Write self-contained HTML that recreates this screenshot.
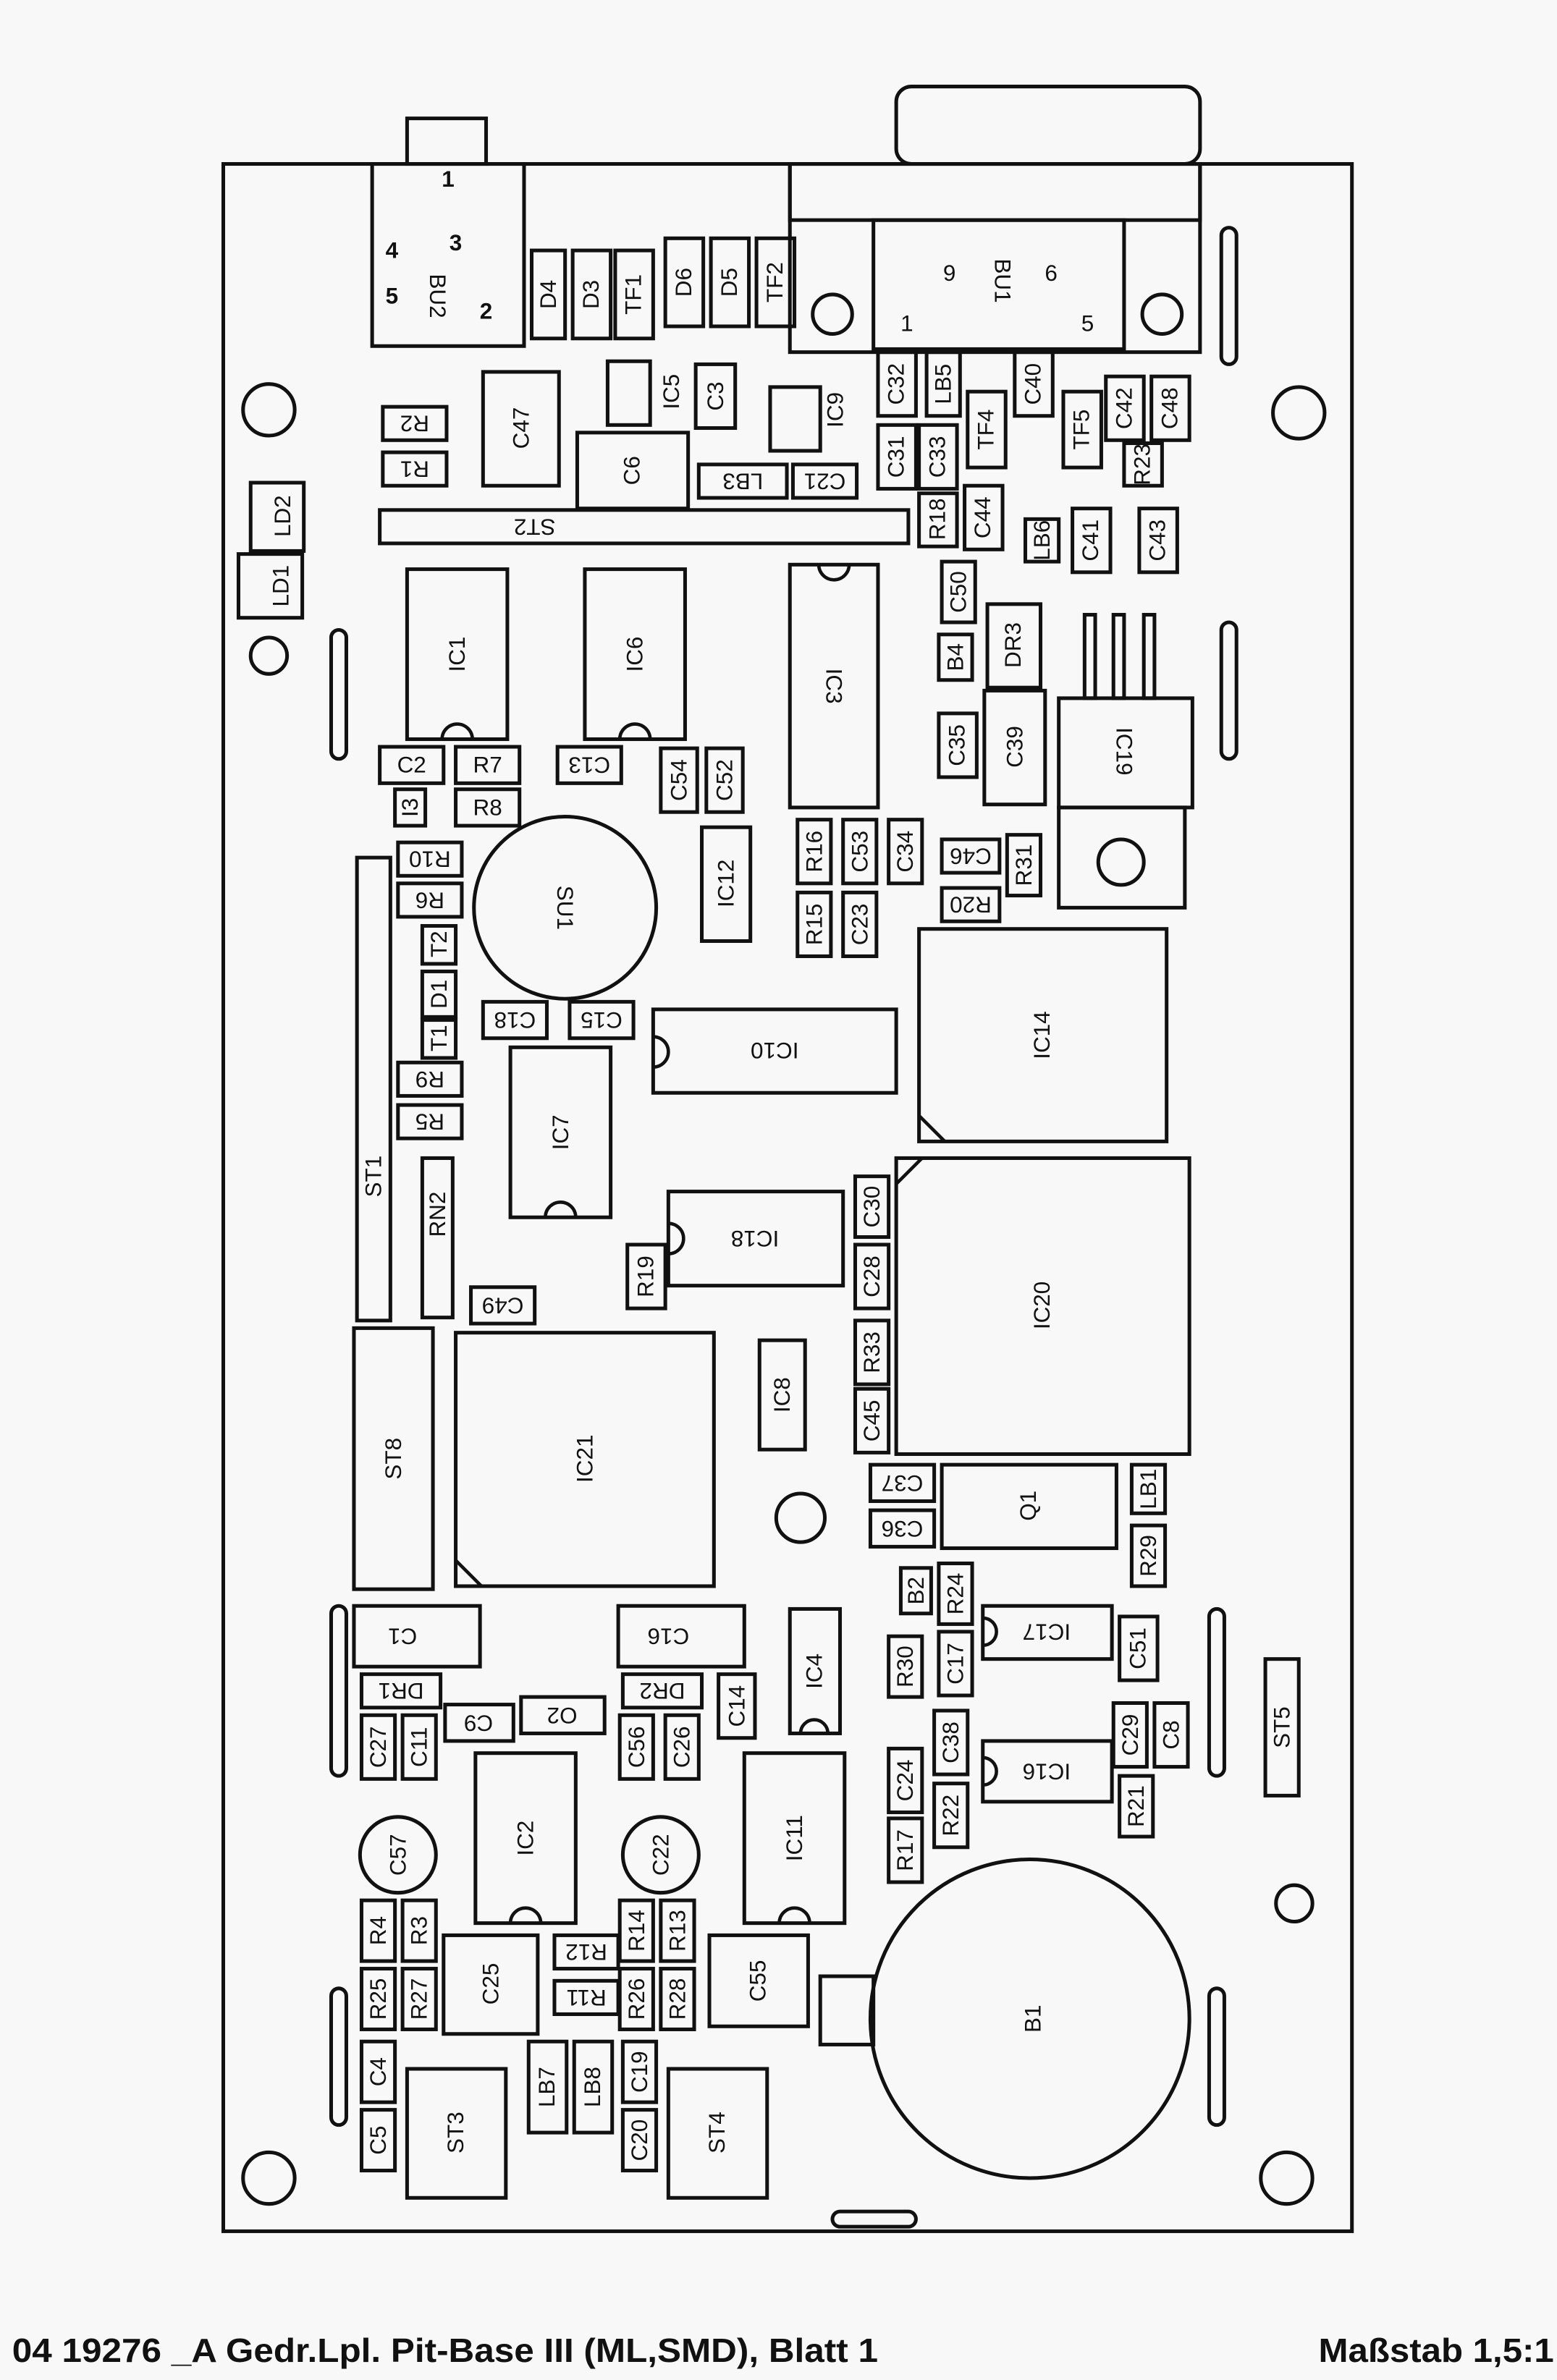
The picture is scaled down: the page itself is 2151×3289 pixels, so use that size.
<!DOCTYPE html>
<html><head><meta charset="utf-8"><style>
html,body{margin:0;padding:0;background:#f8f8f8;}
svg{display:block;}
.c rect,.c circle,.o{fill:none;stroke:#111;stroke-width:2.4;}
.n{fill:none;stroke:#111;stroke-width:2.2;}
text{font-family:"Liberation Sans Narrow","Liberation Sans",sans-serif;font-size:15px;fill:#111;text-anchor:middle;dominant-baseline:central;}
.f{font-family:"Liberation Sans Narrow","Liberation Sans",sans-serif;font-weight:bold;font-size:22px;text-anchor:start;dominant-baseline:auto;}
</style></head><body>
<svg width="2151" height="3289" viewBox="0 0 1025 1568" preserveAspectRatio="none" xmlns="http://www.w3.org/2000/svg">
<rect width="1025" height="1568" fill="#f8f8f8"/>
<g class="c">
<rect x="147" y="108" width="743" height="1362"/>
<rect x="245" y="108" width="100" height="120"/>
<rect x="268" y="78" width="52" height="30"/>
<rect x="590" y="57" width="200" height="51" rx="10"/>
<rect x="520" y="108" width="270" height="124"/>
<rect x="520" y="108" width="270" height="37"/>
<rect x="575" y="145" width="165" height="85"/>
<circle cx="548" cy="207" r="13"/><circle cx="765" cy="207" r="13"/>
<circle cx="177" cy="270" r="17"/><circle cx="855" cy="272" r="17"/>
<circle cx="177" cy="432" r="12"/><circle cx="852" cy="1254" r="12"/>
<circle cx="177" cy="1435" r="17"/><circle cx="847" cy="1435" r="17"/>
<circle cx="527" cy="1000" r="16"/>
<rect x="218" y="415" width="10" height="85" rx="5"/>
<rect x="804" y="150" width="10" height="90" rx="5"/>
<rect x="804" y="410" width="10" height="90" rx="5"/>
<rect x="218" y="1058" width="10" height="112" rx="5"/>
<rect x="796" y="1060" width="10" height="110" rx="5"/>
<rect x="218" y="1310" width="10" height="90" rx="5"/>
<rect x="796" y="1310" width="10" height="90" rx="5"/>
<rect x="548" y="1457" width="55" height="10" rx="5"/>
<rect x="697" y="460" width="88" height="72"/>
<rect x="697" y="532" width="83" height="66"/>
<circle cx="738" cy="568" r="15"/>
<rect x="714" y="405" width="7" height="55"/><rect x="733" y="405" width="7" height="55"/><rect x="753" y="405" width="7" height="55"/>
<circle cx="678" cy="1330" r="105"/>
<rect x="540" y="1302" width="35" height="45"/>
<circle cx="372" cy="598" r="60"/>
<circle cx="262" cy="1222" r="25"/>
<circle cx="435" cy="1222" r="25"/>
</g>
<!-- IC notches -->
<path class="n" d="M291 487 a10 10 0 0 1 20 0 M408 487 a10 10 0 0 1 20 0 M539 372 a10 10 0 0 0 20 0 M359 802 a10 10 0 0 1 20 0 M336 1267 a10 10 0 0 1 20 0 M513 1267 a10 10 0 0 1 20 0 M430 683 a10 10 0 0 1 0 20 M440 806 a10 10 0 0 1 0 20 M647 1066 a9 9 0 0 1 0 18 M647 1158 a9 9 0 0 1 0 18 M527 1142 a9 9 0 0 1 18 0"/>
<path class="n" d="M605 735 L622 752 M590 780 L607 763 M300 1028 L317 1045"/>
<text x="295" y="118" font-size="18" font-weight="bold">1</text><text x="300" y="160" font-size="20" font-weight="bold">3</text><text x="258" y="165" font-size="20" font-weight="bold">4</text><text x="258" y="195" font-size="20" font-weight="bold">5</text><text x="320" y="205" font-size="20" font-weight="bold">2</text>
<text x="288" y="195" transform="rotate(90 288 195)">BU2</text>
<text x="625" y="180" font-size="18">9</text><text x="692" y="180" font-size="18">6</text><text x="660" y="185" transform="rotate(90 660 185)">BU1</text>
<text x="597" y="213">1</text><text x="716" y="213">5</text>
<text x="372" y="598" transform="rotate(90 372 598)">SU1</text>
<text x="262" y="1222" transform="rotate(-90 262 1222)">C57</text>
<text x="435" y="1222" transform="rotate(-90 435 1222)">C22</text>
<text x="680" y="1330" transform="rotate(-90 680 1330)">B1</text>
<text x="740" y="495" transform="rotate(90 740 495)">IC19</text>
<g class="c">
<rect x="350" y="165" width="22" height="58"/><text x="361" y="194" transform="rotate(-90 361 194)">D4</text>
<rect x="377" y="165" width="25" height="58"/><text x="389" y="194" transform="rotate(-90 389 194)">D3</text>
<rect x="405" y="165" width="25" height="58"/><text x="417" y="194" transform="rotate(-90 417 194)">TF1</text>
<rect x="438" y="157" width="25" height="58"/><text x="450" y="186" transform="rotate(-90 450 186)">D6</text>
<rect x="468" y="157" width="25" height="58"/><text x="480" y="186" transform="rotate(-90 480 186)">D5</text>
<rect x="498" y="157" width="25" height="58"/><text x="510" y="186" transform="rotate(-90 510 186)">TF2</text>
<rect x="318" y="245" width="50" height="75"/><text x="343" y="282" transform="rotate(-90 343 282)">C47</text>
<rect x="252" y="268" width="42" height="22"/><text x="273" y="279" transform="rotate(180 273 279)">R2</text>
<rect x="252" y="298" width="42" height="22"/><text x="273" y="309" transform="rotate(180 273 309)">R1</text>
<rect x="400" y="238" width="28" height="42"/><text x="442" y="258" transform="rotate(-90 442 258)">IC5</text>
<rect x="458" y="240" width="26" height="42"/><text x="471" y="261" transform="rotate(-90 471 261)">C3</text>
<rect x="507" y="255" width="33" height="42"/><text x="550" y="270" transform="rotate(-90 550 270)">IC9</text>
<rect x="380" y="285" width="73" height="50"/><text x="416" y="310" transform="rotate(-90 416 310)">C6</text>
<rect x="460" y="306" width="58" height="22"/><text x="489" y="317" transform="rotate(180 489 317)">LB3</text>
<rect x="522" y="306" width="42" height="22"/><text x="543" y="317" transform="rotate(180 543 317)">C21</text>
<rect x="578" y="232" width="25" height="42"/><text x="590" y="253" transform="rotate(-90 590 253)">C32</text>
<rect x="610" y="232" width="22" height="42"/><text x="621" y="253" transform="rotate(-90 621 253)">LB5</text>
<rect x="578" y="280" width="25" height="42"/><text x="590" y="301" transform="rotate(-90 590 301)">C31</text>
<rect x="605" y="280" width="25" height="42"/><text x="617" y="301" transform="rotate(-90 617 301)">C33</text>
<rect x="637" y="258" width="25" height="50"/><text x="649" y="283" transform="rotate(-90 649 283)">TF4</text>
<rect x="668" y="232" width="25" height="42"/><text x="680" y="253" transform="rotate(-90 680 253)">C40</text>
<rect x="700" y="258" width="25" height="50"/><text x="712" y="283" transform="rotate(-90 712 283)">TF5</text>
<rect x="728" y="248" width="25" height="42"/><text x="740" y="269" transform="rotate(-90 740 269)">C42</text>
<rect x="758" y="248" width="25" height="42"/><text x="770" y="269" transform="rotate(-90 770 269)">C48</text>
<rect x="740" y="292" width="25" height="28"/><text x="752" y="306" transform="rotate(-90 752 306)">R23</text>
<rect x="605" y="325" width="25" height="35"/><text x="617" y="342" transform="rotate(-90 617 342)">R18</text>
<rect x="635" y="320" width="25" height="42"/><text x="647" y="341" transform="rotate(-90 647 341)">C44</text>
<rect x="675" y="342" width="22" height="28"/><text x="686" y="356" transform="rotate(-90 686 356)">LB6</text>
<rect x="706" y="335" width="25" height="42"/><text x="718" y="356" transform="rotate(-90 718 356)">C41</text>
<rect x="750" y="335" width="25" height="42"/><text x="762" y="356" transform="rotate(-90 762 356)">C43</text>
<rect x="250" y="336" width="348" height="22"/><text x="352" y="347" transform="rotate(180 352 347)">ST2</text>
<rect x="165" y="318" width="35" height="45"/><text x="186" y="340" transform="rotate(-90 186 340)">LD2</text>
<rect x="157" y="365" width="42" height="42"/><text x="185" y="386" transform="rotate(-90 185 386)">LD1</text>
<rect x="268" y="375" width="66" height="112"/><text x="301" y="431" transform="rotate(-90 301 431)">IC1</text>
<rect x="385" y="375" width="66" height="112"/><text x="418" y="431" transform="rotate(-90 418 431)">IC6</text>
<rect x="520" y="372" width="58" height="160"/><text x="549" y="452" transform="rotate(90 549 452)">IC3</text>
<rect x="620" y="370" width="22" height="40"/><text x="631" y="390" transform="rotate(-90 631 390)">C50</text>
<rect x="618" y="418" width="22" height="30"/><text x="629" y="433" transform="rotate(-90 629 433)">B4</text>
<rect x="650" y="398" width="35" height="55"/><text x="667" y="425" transform="rotate(-90 667 425)">DR3</text>
<rect x="618" y="470" width="25" height="42"/><text x="630" y="491" transform="rotate(-90 630 491)">C35</text>
<rect x="648" y="455" width="40" height="75"/><text x="668" y="492" transform="rotate(-90 668 492)">C39</text>
<rect x="250" y="492" width="42" height="24"/><text x="271" y="504">C2</text>
<rect x="300" y="492" width="42" height="24"/><text x="321" y="504">R7</text>
<rect x="300" y="520" width="42" height="24"/><text x="321" y="532">R8</text>
<rect x="367" y="492" width="42" height="24"/><text x="388" y="504" transform="rotate(180 388 504)">C13</text>
<rect x="435" y="493" width="24" height="42"/><text x="447" y="514" transform="rotate(-90 447 514)">C54</text>
<rect x="465" y="493" width="24" height="42"/><text x="477" y="514" transform="rotate(-90 477 514)">C52</text>
<rect x="260" y="520" width="20" height="24"/><text x="270" y="532" transform="rotate(-90 270 532)">I3</text>
<rect x="262" y="555" width="42" height="22"/><text x="283" y="566" transform="rotate(180 283 566)">R10</text>
<rect x="262" y="582" width="42" height="22"/><text x="283" y="593" transform="rotate(180 283 593)">R6</text>
<rect x="278" y="610" width="22" height="25"/><text x="289" y="622" transform="rotate(-90 289 622)">T2</text>
<rect x="278" y="640" width="22" height="30"/><text x="289" y="655" transform="rotate(-90 289 655)">D1</text>
<rect x="278" y="672" width="22" height="25"/><text x="289" y="684" transform="rotate(-90 289 684)">T1</text>
<rect x="262" y="700" width="42" height="22"/><text x="283" y="711" transform="rotate(180 283 711)">R9</text>
<rect x="262" y="728" width="42" height="22"/><text x="283" y="739" transform="rotate(180 283 739)">R5</text>
<rect x="235" y="565" width="22" height="305"/><text x="246" y="775" transform="rotate(-90 246 775)">ST1</text>
<rect x="462" y="545" width="32" height="75"/><text x="478" y="582" transform="rotate(-90 478 582)">IC12</text>
<rect x="525" y="540" width="22" height="42"/><text x="536" y="561" transform="rotate(-90 536 561)">R16</text>
<rect x="555" y="540" width="22" height="42"/><text x="566" y="561" transform="rotate(-90 566 561)">C53</text>
<rect x="585" y="540" width="22" height="42"/><text x="596" y="561" transform="rotate(-90 596 561)">C34</text>
<rect x="525" y="588" width="22" height="42"/><text x="536" y="609" transform="rotate(-90 536 609)">R15</text>
<rect x="555" y="588" width="22" height="42"/><text x="566" y="609" transform="rotate(-90 566 609)">C23</text>
<rect x="620" y="553" width="38" height="22"/><text x="639" y="564" transform="rotate(180 639 564)">C46</text>
<rect x="620" y="585" width="38" height="22"/><text x="639" y="596" transform="rotate(180 639 596)">R20</text>
<rect x="663" y="550" width="22" height="40"/><text x="674" y="570" transform="rotate(-90 674 570)">R31</text>
<rect x="605" y="612" width="163" height="140"/><text x="686" y="682" transform="rotate(-90 686 682)">IC14</text>
<rect x="318" y="660" width="42" height="24"/><text x="339" y="672" transform="rotate(180 339 672)">C18</text>
<rect x="375" y="660" width="42" height="24"/><text x="396" y="672" transform="rotate(180 396 672)">C15</text>
<rect x="430" y="665" width="160" height="55"/><text x="510" y="692" transform="rotate(180 510 692)">IC10</text>
<rect x="336" y="690" width="66" height="112"/><text x="369" y="746" transform="rotate(-90 369 746)">IC7</text>
<rect x="590" y="763" width="193" height="195"/><text x="686" y="860" transform="rotate(-90 686 860)">IC20</text>
<rect x="563" y="775" width="22" height="40"/><text x="574" y="795" transform="rotate(-90 574 795)">C30</text>
<rect x="440" y="785" width="115" height="62"/><text x="497" y="816" transform="rotate(180 497 816)">IC18</text>
<rect x="563" y="820" width="22" height="42"/><text x="574" y="841" transform="rotate(-90 574 841)">C28</text>
<rect x="413" y="820" width="25" height="42"/><text x="425" y="841" transform="rotate(-90 425 841)">R19</text>
<rect x="278" y="763" width="20" height="105"/><text x="288" y="800" transform="rotate(-90 288 800)">RN2</text>
<rect x="310" y="848" width="42" height="24"/><text x="331" y="860" transform="rotate(180 331 860)">C49</text>
<rect x="563" y="870" width="22" height="42"/><text x="574" y="891" transform="rotate(-90 574 891)">R33</text>
<rect x="500" y="883" width="30" height="72"/><text x="515" y="919" transform="rotate(-90 515 919)">IC8</text>
<rect x="563" y="915" width="22" height="42"/><text x="574" y="936" transform="rotate(-90 574 936)">C45</text>
<rect x="233" y="875" width="52" height="172"/><text x="259" y="961" transform="rotate(-90 259 961)">ST8</text>
<rect x="300" y="878" width="170" height="167"/><text x="385" y="961" transform="rotate(-90 385 961)">IC21</text>
<rect x="573" y="965" width="42" height="24"/><text x="594" y="977" transform="rotate(180 594 977)">C37</text>
<rect x="573" y="995" width="42" height="24"/><text x="594" y="1007" transform="rotate(180 594 1007)">C36</text>
<rect x="620" y="965" width="115" height="55"/><text x="677" y="992" transform="rotate(-90 677 992)">Q1</text>
<rect x="745" y="965" width="22" height="32"/><text x="756" y="981" transform="rotate(-90 756 981)">LB1</text>
<rect x="745" y="1005" width="22" height="40"/><text x="756" y="1025" transform="rotate(-90 756 1025)">R29</text>
<rect x="593" y="1033" width="20" height="30"/><text x="603" y="1048" transform="rotate(-90 603 1048)">B2</text>
<rect x="618" y="1030" width="22" height="40"/><text x="629" y="1050" transform="rotate(-90 629 1050)">R24</text>
<rect x="647" y="1058" width="85" height="35"/><text x="689" y="1075" transform="rotate(180 689 1075)">IC17</text>
<rect x="737" y="1065" width="25" height="42"/><text x="749" y="1086" transform="rotate(-90 749 1086)">C51</text>
<rect x="585" y="1078" width="22" height="40"/><text x="596" y="1098" transform="rotate(-90 596 1098)">R30</text>
<rect x="618" y="1075" width="22" height="42"/><text x="629" y="1096" transform="rotate(-90 629 1096)">C17</text>
<rect x="233" y="1058" width="83" height="40"/><text x="265" y="1078" transform="rotate(180 265 1078)">C1</text>
<rect x="407" y="1058" width="83" height="40"/><text x="440" y="1078" transform="rotate(180 440 1078)">C16</text>
<rect x="520" y="1060" width="33" height="82"/><text x="536" y="1101" transform="rotate(-90 536 1101)">IC4</text>
<rect x="238" y="1103" width="52" height="22"/><text x="264" y="1114" transform="rotate(180 264 1114)">DR1</text>
<rect x="343" y="1118" width="55" height="24"/><text x="370" y="1130" transform="rotate(180 370 1130)">O2</text>
<rect x="293" y="1123" width="45" height="24"/><text x="315" y="1135" transform="rotate(180 315 1135)">C9</text>
<rect x="410" y="1103" width="52" height="22"/><text x="436" y="1114" transform="rotate(180 436 1114)">DR2</text>
<rect x="473" y="1103" width="24" height="42"/><text x="485" y="1124" transform="rotate(-90 485 1124)">C14</text>
<rect x="238" y="1130" width="22" height="42"/><text x="249" y="1151" transform="rotate(-90 249 1151)">C27</text>
<rect x="265" y="1130" width="22" height="42"/><text x="276" y="1151" transform="rotate(-90 276 1151)">C11</text>
<rect x="408" y="1130" width="22" height="42"/><text x="419" y="1151" transform="rotate(-90 419 1151)">C56</text>
<rect x="438" y="1130" width="22" height="42"/><text x="449" y="1151" transform="rotate(-90 449 1151)">C26</text>
<rect x="585" y="1152" width="22" height="42"/><text x="596" y="1173" transform="rotate(-90 596 1173)">C24</text>
<rect x="615" y="1127" width="22" height="42"/><text x="626" y="1148" transform="rotate(-90 626 1148)">C38</text>
<rect x="647" y="1147" width="85" height="40"/><text x="689" y="1167" transform="rotate(180 689 1167)">IC16</text>
<rect x="733" y="1122" width="22" height="42"/><text x="744" y="1143" transform="rotate(-90 744 1143)">C29</text>
<rect x="760" y="1122" width="22" height="42"/><text x="771" y="1143" transform="rotate(-90 771 1143)">C8</text>
<rect x="615" y="1175" width="22" height="42"/><text x="626" y="1196" transform="rotate(-90 626 1196)">R22</text>
<rect x="737" y="1170" width="22" height="40"/><text x="748" y="1190" transform="rotate(-90 748 1190)">R21</text>
<rect x="585" y="1198" width="22" height="42"/><text x="596" y="1219" transform="rotate(-90 596 1219)">R17</text>
<rect x="833" y="1093" width="22" height="90"/><text x="844" y="1138" transform="rotate(-90 844 1138)">ST5</text>
<rect x="313" y="1155" width="66" height="112"/><text x="346" y="1211" transform="rotate(-90 346 1211)">IC2</text>
<rect x="490" y="1155" width="66" height="112"/><text x="523" y="1211" transform="rotate(-90 523 1211)">IC11</text>
<rect x="238" y="1252" width="22" height="40"/><text x="249" y="1272" transform="rotate(-90 249 1272)">R4</text>
<rect x="265" y="1252" width="22" height="40"/><text x="276" y="1272" transform="rotate(-90 276 1272)">R3</text>
<rect x="408" y="1252" width="22" height="40"/><text x="419" y="1272" transform="rotate(-90 419 1272)">R14</text>
<rect x="435" y="1252" width="22" height="40"/><text x="446" y="1272" transform="rotate(-90 446 1272)">R13</text>
<rect x="365" y="1275" width="42" height="22"/><text x="386" y="1286" transform="rotate(180 386 1286)">R12</text>
<rect x="365" y="1305" width="42" height="22"/><text x="386" y="1316" transform="rotate(180 386 1316)">R11</text>
<rect x="292" y="1275" width="62" height="65"/><text x="323" y="1307" transform="rotate(-90 323 1307)">C25</text>
<rect x="467" y="1275" width="65" height="60"/><text x="499" y="1305" transform="rotate(-90 499 1305)">C55</text>
<rect x="238" y="1297" width="22" height="40"/><text x="249" y="1317" transform="rotate(-90 249 1317)">R25</text>
<rect x="265" y="1297" width="22" height="40"/><text x="276" y="1317" transform="rotate(-90 276 1317)">R27</text>
<rect x="408" y="1297" width="22" height="40"/><text x="419" y="1317" transform="rotate(-90 419 1317)">R26</text>
<rect x="435" y="1297" width="22" height="40"/><text x="446" y="1317" transform="rotate(-90 446 1317)">R28</text>
<rect x="238" y="1345" width="22" height="40"/><text x="249" y="1365" transform="rotate(-90 249 1365)">C4</text>
<rect x="410" y="1345" width="22" height="40"/><text x="421" y="1365" transform="rotate(-90 421 1365)">C19</text>
<rect x="348" y="1345" width="25" height="60"/><text x="360" y="1375" transform="rotate(-90 360 1375)">LB7</text>
<rect x="378" y="1345" width="25" height="60"/><text x="390" y="1375" transform="rotate(-90 390 1375)">LB8</text>
<rect x="238" y="1390" width="22" height="40"/><text x="249" y="1410" transform="rotate(-90 249 1410)">C5</text>
<rect x="410" y="1390" width="22" height="40"/><text x="421" y="1410" transform="rotate(-90 421 1410)">C20</text>
<rect x="268" y="1363" width="65" height="85"/><text x="300" y="1405" transform="rotate(-90 300 1405)">ST3</text>
<rect x="440" y="1363" width="65" height="85"/><text x="472" y="1405" transform="rotate(-90 472 1405)">ST4</text>
</g>
<text class="f" x="8" y="1556" textLength="570" lengthAdjust="spacingAndGlyphs">04 19276 _A Gedr.Lpl. Pit-Base III (ML,SMD), Blatt 1</text>
<text class="f" x="868" y="1556" textLength="155" lengthAdjust="spacingAndGlyphs">Maßstab 1,5:1</text>
</svg>
</body></html>
